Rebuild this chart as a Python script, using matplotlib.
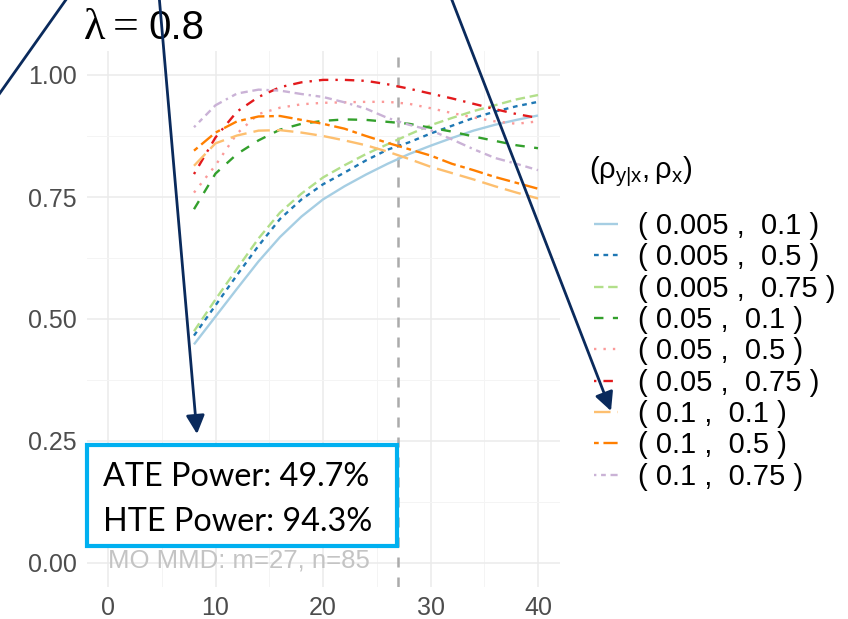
import matplotlib
matplotlib.use("Agg")
import matplotlib.pyplot as plt
import matplotlib.patches as mpatches
import matplotlib.lines as mlines
from matplotlib.ticker import MultipleLocator

plt.rcParams['font.family'] = ['Liberation Sans', 'DejaVu Sans']
plt.rcParams['mathtext.fontset'] = 'custom'
plt.rcParams['mathtext.rm'] = 'Liberation Sans'
plt.rcParams['mathtext.it'] = 'Liberation Sans'

# ---------------- data ----------------
n_values = [8, 10, 12, 14, 16, 18, 20, 22, 24, 26, 28, 30, 32, 34, 36, 38, 40]

power_0005_01 = [0.448, 0.505, 0.562, 0.618, 0.668, 0.710, 0.745, 0.772, 0.796, 0.818, 0.838, 0.855, 0.871, 0.886, 0.898, 0.908, 0.917]
power_0005_05 = [0.466, 0.528, 0.590, 0.650, 0.705, 0.745, 0.776, 0.800, 0.825, 0.847, 0.862, 0.880, 0.896, 0.912, 0.925, 0.936, 0.945]
power_0005_075 = [0.475, 0.540, 0.603, 0.665, 0.718, 0.757, 0.790, 0.815, 0.838, 0.858, 0.878, 0.897, 0.912, 0.926, 0.938, 0.950, 0.959]
power_005_01 = [0.725, 0.798, 0.838, 0.866, 0.888, 0.900, 0.906, 0.909, 0.908, 0.904, 0.900, 0.892, 0.884, 0.874, 0.865, 0.856, 0.850]
power_005_05 = [0.759, 0.815, 0.880, 0.920, 0.933, 0.940, 0.943, 0.944, 0.945, 0.945, 0.941, 0.932, 0.922, 0.913, 0.905, 0.900, 0.905]
power_005_075 = [0.797, 0.872, 0.925, 0.955, 0.975, 0.985, 0.990, 0.990, 0.988, 0.981, 0.972, 0.962, 0.952, 0.941, 0.930, 0.920, 0.912]
power_01_01 = [0.814, 0.860, 0.876, 0.886, 0.887, 0.882, 0.875, 0.866, 0.856, 0.843, 0.828, 0.812, 0.799, 0.786, 0.772, 0.759, 0.747]
power_01_05 = [0.845, 0.882, 0.905, 0.915, 0.916, 0.908, 0.900, 0.890, 0.875, 0.861, 0.848, 0.835, 0.818, 0.805, 0.791, 0.779, 0.767]
power_01_075 = [0.893, 0.938, 0.962, 0.970, 0.968, 0.961, 0.955, 0.944, 0.931, 0.912, 0.898, 0.887, 0.868, 0.848, 0.830, 0.818, 0.805]

series_labels = ["( 0.005 ,  0.1 )", "( 0.005 ,  0.5 )", "( 0.005 ,  0.75 )",
                 "( 0.05 ,  0.1 )", "( 0.05 ,  0.5 )", "( 0.05 ,  0.75 )",
                 "( 0.1 ,  0.1 )", "( 0.1 ,  0.5 )", "( 0.1 ,  0.75 )"]
legend_title = r'$(\rho_{y|x},\rho_x)$'

x_ticks = [0, 10, 20, 30, 40]
y_ticks = [0.00, 0.25, 0.50, 0.75, 1.00]
y_tick_labels = ["0.00", "0.25", "0.50", "0.75", "1.00"]
chosen_n = 27
title_lambda = "0.8"
note_text = "MO MMD: m=27, n=85"
box_lines = ["ATE Power: 49.7%", "HTE Power: 94.3%"]

# ---------------- styles ----------------
colors = ["#A6CEE3", "#1F78B4", "#B2DF8A", "#33A02C", "#FB9A99",
          "#E31A1C", "#FDBF6F", "#FF7F00", "#CAB2D6"]
dashes = [None, (2, 2), (4, 2), (4, 4), (1, 3), (1, 3, 4, 3), (7, 3),
          (2, 2, 6, 2), (1, 2, 2, 2, 3, 2, 4, 2)]

all_series = [power_0005_01, power_0005_05, power_0005_075,
              power_005_01, power_005_05, power_005_075,
              power_01_01, power_01_05, power_01_075]

W, H = 848, 619
fig = plt.figure(figsize=(W / 100, H / 100), dpi=100)


def fx(px):
    return px / W


def fy(py):
    return 1 - py / H


ax = fig.add_axes([fx(86.5), fy(587.4), fx(559.5) - fx(86.5), fy(50.6) - fy(587.4)])

for vals, lab, col, dsh in zip(all_series, series_labels, colors, dashes):
    if dsh is None:
        ax.plot(n_values, vals, color=col, lw=1.7, label=lab, solid_capstyle='butt')
    else:
        ax.plot(n_values, vals, color=col, lw=1.7, label=lab, linestyle=(0, dsh))

ax.axvline(chosen_n, color="#ABABAB", lw=1.8, linestyle=(0, (4, 4)), zorder=1)

ax.set_xlim(-2, 42)
ax.set_ylim(-0.05, 1.05)
ax.set_xticks(x_ticks)
ax.set_yticks(y_ticks)
ax.set_yticklabels(y_tick_labels)
ax.xaxis.set_minor_locator(MultipleLocator(5))
ax.yaxis.set_minor_locator(MultipleLocator(0.125))
ax.grid(which='major', color='#EBEBEB', lw=1.1, zorder=0)
ax.grid(which='minor', color='#F4F4F4', lw=0.7, zorder=0)
ax.set_axisbelow(True)
for s in ax.spines.values():
    s.set_visible(False)
ax.tick_params(which='both', length=0, labelsize=18, labelcolor='#4D4D4D')
ax.tick_params(axis='x', pad=6)
ax.tick_params(axis='y', pad=7)

ax.text(0, -0.01, note_text, color='#C4C4C4', fontsize=18.5, ha='left', va='baseline', zorder=2)

leg = ax.legend(loc='upper left', bbox_to_anchor=(fx(594), fy(212)), bbox_transform=fig.transFigure,
                frameon=False, fontsize=21, borderaxespad=0, borderpad=0,
                handlelength=0.82, handletextpad=0.7, labelspacing=0.115)
fig.text(fx(589), fy(172), legend_title, fontsize=21, ha='left', va='center')

# title
serif = ['Liberation Serif', 'DejaVu Serif']
fig.text(fx(84), fy(39), "λ", fontsize=32, family=serif, ha='left', va='baseline')
fig.text(fx(113), fy(39), "=", fontsize=33, family=serif, ha='left', va='baseline')
fig.text(fx(148), fy(39), title_lambda, fontsize=29, ha='left', va='baseline')

# highlight box
box = mpatches.Rectangle((fx(87), fy(546)), fx(397) - fx(87), fy(445) - fy(546), transform=fig.transFigure,
                         facecolor='white', edgecolor='#00B0F0', lw=3, zorder=5)
fig.add_artist(box)
box_font = ['Lato', 'DejaVu Sans']
fig.text(fx(103), fy(486), box_lines[0], fontsize=23.3, family=box_font, ha='left', va='baseline', zorder=6)
fig.text(fx(103), fy(531), box_lines[1], fontsize=23.3, family=box_font, ha='left', va='baseline', zorder=6)

# overlay arrows
navy = '#0A2A5C'
fig.add_artist(mlines.Line2D([fx(70), fx(-5)], [fy(-6), fy(100)], transform=fig.transFigure,
                             color=navy, lw=2, zorder=7))
fig.add_artist(mpatches.FancyArrowPatch((fx(159), fy(-5)), (fx(197), fy(434)), transform=fig.transFigure,
                                        arrowstyle='-|>', mutation_scale=28, color=navy, lw=2,
                                        shrinkA=0, shrinkB=0, zorder=7))
fig.add_artist(mpatches.FancyArrowPatch((fx(450), fy(-5)), (fx(611), fy(411)), transform=fig.transFigure,
                                        arrowstyle='-|>', mutation_scale=28, color=navy, lw=2,
                                        shrinkA=0, shrinkB=0, zorder=7))

fig.savefig("out.png", dpi=100)
